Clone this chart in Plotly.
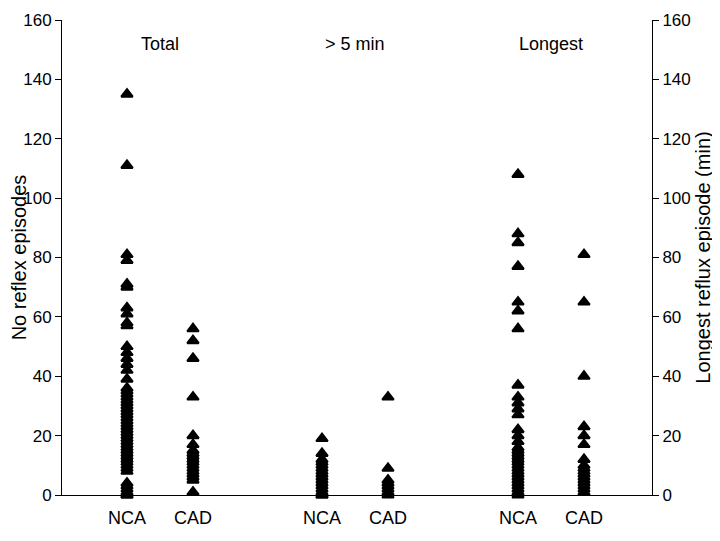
import plotly.graph_objects as go

# data
groups = ["Total", "> 5 min", "Longest"]
subgroups = ["NCA", "CAD"]

total_nca = [135, 111, 81, 79, 71, 70, 63, 61, 58, 57, 50, 48, 46, 44, 42, 39,
             36, 35, 34, 33, 32, 31, 30, 29, 28, 27, 26, 25, 24, 23, 22, 21, 20,
             19, 18, 17, 16, 15, 14, 13, 12, 11, 10, 9, 8, 4, 3, 2, 1, 0, 0]
total_cad = [56, 52, 46, 33, 20, 17, 15, 14, 13, 12, 11, 10, 9, 8, 7, 6, 5, 1]
over5_nca = [19, 14, 12, 11, 10, 9, 8, 7, 6, 5, 4, 3, 2, 1, 0, 0]
over5_cad = [33, 9, 5, 4, 3, 2, 1, 0]
longest_nca = [108, 88, 85, 77, 65, 62, 56, 37, 33, 31, 29, 27, 22, 20, 18, 16,
               15, 14, 13, 12, 11, 10, 9, 8, 7, 6, 5, 4, 3, 2, 1, 0]
longest_cad = [81, 65, 40, 23, 20, 17, 12, 10, 9, 8, 7, 6, 5, 4, 3, 2, 1]

yticks = [0, 20, 40, 60, 80, 100, 120, 140, 160]

# layout of columns on the x axis (group centre +/- offset)
centres = [98, 293, 489]
offset = 33

series = [(total_nca, 0, 0, "y"), (total_cad, 0, 1, "y"),
          (over5_nca, 1, 0, "y"), (over5_cad, 1, 1, "y"),
          (longest_nca, 2, 0, "y2"), (longest_cad, 2, 1, "y2")]

fig = go.Figure()
for vals, g, s, ax in series:
    xpos = centres[g] + (offset if s else -offset)
    fig.add_trace(go.Scatter(
        x=[xpos] * len(vals), y=vals, mode="markers", yaxis=ax,
        marker=dict(symbol="triangle-up", size=10, color="black",
                    line=dict(color="black", width=2)),
        cliponaxis=False, showlegend=False))

tickvals = []
ticktext = []
for c in centres:
    tickvals += [c - offset, c + offset]
    ticktext += subgroups

# page body has an 8px margin, so the figure is sized to fit the window
font = dict(family="Liberation Sans, Arial", size=17, color="black")
fig.update_layout(
    width=712, height=533,
    margin=dict(l=54, r=68, t=12, b=46),
    paper_bgcolor="white", plot_bgcolor="white",
    font=font,
    xaxis=dict(range=[0, 590], showgrid=False, zeroline=False,
               showline=True, linecolor="black", linewidth=1,
               tickvals=tickvals, ticktext=ticktext, ticks="",
               tickfont=dict(size=18), ticklabelstandoff=6,
               automargin=False),
    yaxis=dict(range=[0, 160], tickvals=yticks, showgrid=False,
               zeroline=False, showline=True, linecolor="black",
               linewidth=1, ticks="outside", ticklen=6,
               tickcolor="black", automargin=False,
               title=dict(text="No reflex episodes", font=dict(size=20),
                          standoff=2)),
    yaxis2=dict(range=[0, 160], tickvals=yticks, overlaying="y",
                side="right", showgrid=False, zeroline=False,
                showline=True, linecolor="black", linewidth=1,
                ticks="outside", ticklen=6, tickcolor="black",
                automargin=False,
                title=dict(text="Longest reflux episode (min)",
                           font=dict(size=20), standoff=6)),
)

for c, name in zip(centres, groups):
    fig.add_annotation(x=c, y=152, text=name, showarrow=False,
                       xref="x", yref="y", font=dict(size=18))

fig.write_html("out.html")
